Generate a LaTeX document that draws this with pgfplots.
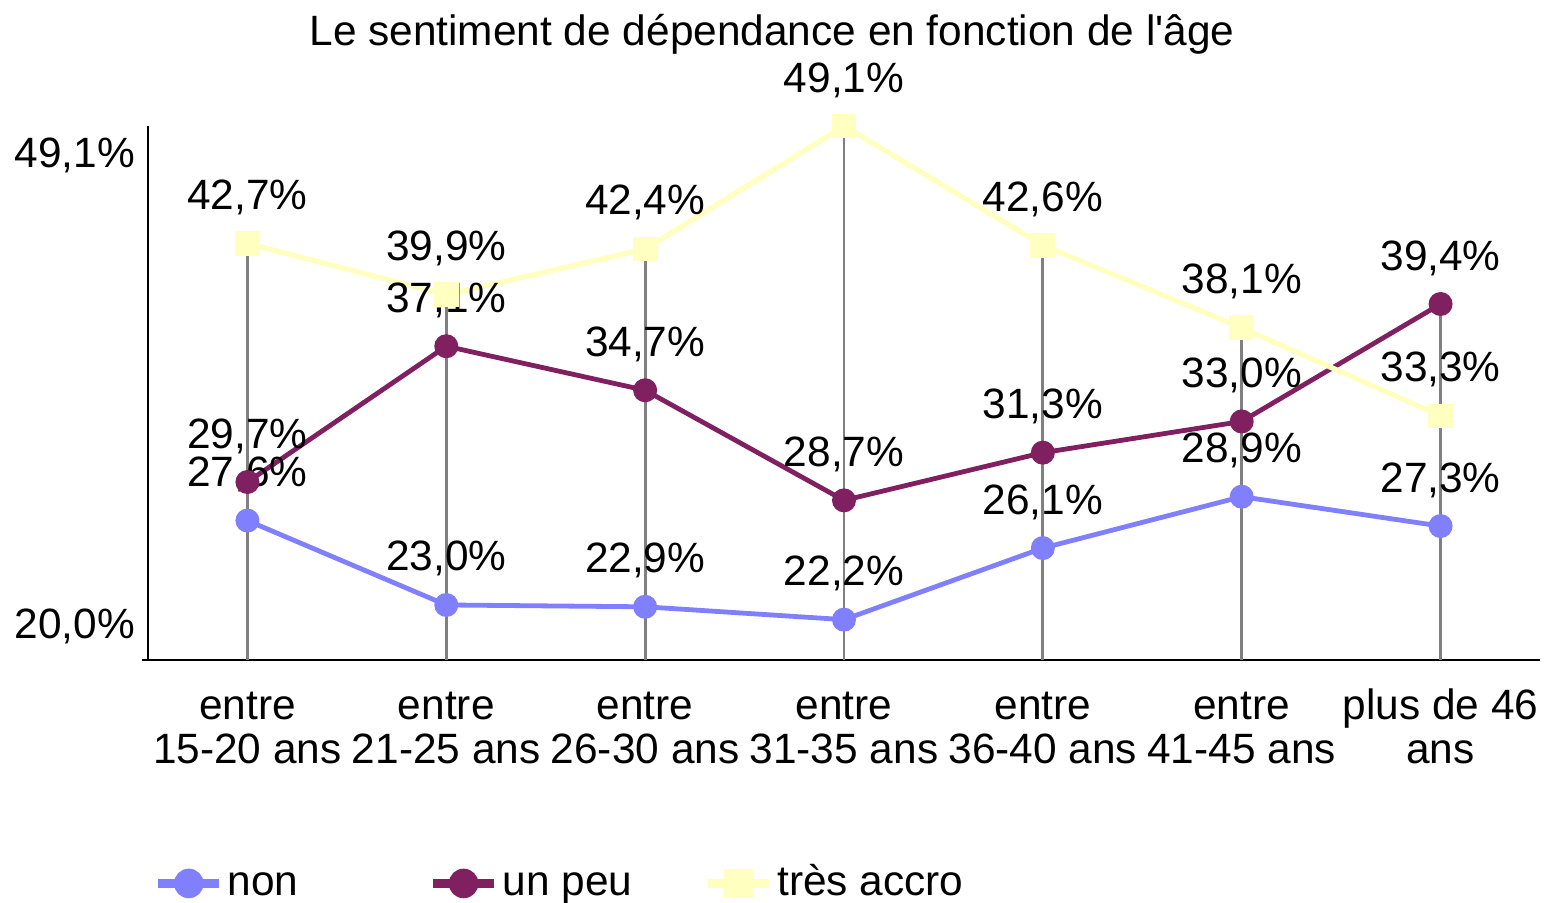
\documentclass[border=0pt]{standalone}
\usepackage{fontspec}
\setmainfont{Liberation Sans}
\usepackage{pgfplots}
\pgfplotsset{compat=1.18}
\definecolor{cnon}{RGB}{128,128,255}
\definecolor{cpeu}{RGB}{128,32,96}
\definecolor{caccro}{RGB}{255,255,192}
\definecolor{cdrop}{RGB}{128,128,128}
\begin{document}
\fontsize{10.6}{11}\selectfont
\begin{tikzpicture}
\begin{axis}[
  name=ax,
  scale only axis,
  width=348pt, height=133.5pt,
  xmin=-0.5, xmax=6.5, ymin=20, ymax=49.1,
  axis x line=bottom, axis y line=left,
  axis line style={-, line width=0.6pt, black},
  xtick={0,1,2,3,4,5,6},
  xticklabels={{\strut entre\\15-20 ans},{\strut entre\\21-25 ans},{\strut entre\\26-30 ans},{\strut entre\\31-35 ans},{\strut entre\\36-40 ans},{\strut entre\\41-45 ans},{\strut plus de 46\\ans}},
  xticklabel style={align=center, yshift=-1.9pt},
  x tick style={draw=none},
  ytick={20},
  yticklabels={\mbox{20,0\%}},
  tick align=outside,
  major tick length=1.5pt,
  y tick style={line width=0.6pt, black},
  yticklabel style={anchor=base east, yshift=5.5pt, xshift=2pt},
  extra y ticks={49.1},
  extra y tick labels={\mbox{49,1\%}},
  extra y tick style={tick style={draw=none}, yticklabel style={yshift=-15.75pt}},
  title={Le sentiment de dépendance en fonction de l\textquotesingle âge},
  title style={at={(rel axis cs:0.4483,1)}, anchor=base, yshift=14.25pt, inner sep=0pt},
  legend columns=3,
  legend style={draw=none, fill=none, at={(rel axis cs:0,0)}, anchor=west, xshift=1.5pt, yshift=-55.75pt, inner sep=0pt, outer sep=0pt, nodes={inner xsep=1pt, inner ysep=0pt, anchor=base west}, /tikz/every even column/.append style={column sep=0pt}},
  legend image code/.code={\draw[mark repeat=2,mark phase=2,line width=2.2pt,mark size=3.5pt] plot coordinates {(0pt,3pt) (7.6pt,3pt) (15.25pt,3pt)};},
  every node near coord/.append style={anchor=base, yshift=8.5pt, inner sep=0pt, text=black},
]
\addplot[ycomb, color=cdrop, line width=0.7pt, no marks, forget plot] coordinates {(0,42.7) (1,39.9) (2,42.4) (3,49.1) (4,42.6) (5,38.1) (6,39.4)};

\addplot[color=cnon, line width=1.2pt, mark=*, mark size=2.8pt, mark options={line width=0.4pt, fill=cnon},
  nodes near coords={\pgfmathprintnumber[fixed,fixed zerofill,precision=1,use comma,assume math mode=true]{\pgfplotspointmeta}\%}]
  coordinates {(0,27.6) (1,23.0) (2,22.9) (3,22.2) (4,26.1) (5,28.9) (6,27.3)};
\addlegendentry{\makebox[49.25pt][l]{non}}

\addplot[color=cpeu, line width=1.2pt, mark=*, mark size=2.8pt, mark options={line width=0.4pt, fill=cpeu},
  nodes near coords={\pgfmathprintnumber[fixed,fixed zerofill,precision=1,use comma,assume math mode=true]{\pgfplotspointmeta}\%}]
  coordinates {(0,29.7) (1,37.1) (2,34.7) (3,28.7) (4,31.3) (5,33.0) (6,39.4)};
\addlegendentry{\makebox[49.25pt][l]{un peu}}

\addplot[color=caccro, line width=1.3pt, mark=square*, mark size=2.9pt, mark options={line width=0.4pt, fill=caccro},
  nodes near coords={\pgfmathprintnumber[fixed,fixed zerofill,precision=1,use comma,assume math mode=true]{\pgfplotspointmeta}\%}]
  coordinates {(0,42.7) (1,39.9) (2,42.4) (3,49.1) (4,42.6) (5,38.1) (6,33.3)};
\addlegendentry{\makebox[49.25pt][l]{très accro}}
\end{axis}
\pgfresetboundingbox
\path[use as bounding box] ([xshift=-37pt,yshift=-60.5pt]ax.south west) rectangle ([xshift=1.75pt,yshift=31.5pt]ax.north east);
\end{tikzpicture}
\end{document}
